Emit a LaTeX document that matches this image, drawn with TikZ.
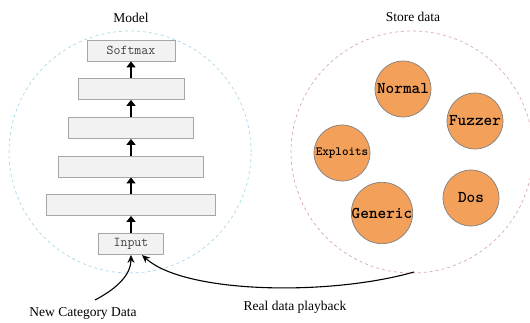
\documentclass[tikz,border=0pt]{standalone}
\usepackage{fontspec}
\setmainfont{Liberation Serif}
\usetikzlibrary{arrows.meta}

\definecolor{layerfill}{HTML}{F2F2F2}
\definecolor{layerline}{HTML}{A6A6A6}
\definecolor{layertext}{HTML}{404040}
\definecolor{modelring}{HTML}{A8D8E8}
\definecolor{storering}{HTML}{D8A8B0}
\definecolor{classfill}{HTML}{F3A05A}
\definecolor{classline}{HTML}{808080}

\begin{document}
\begin{tikzpicture}[x=1pt, y=1pt,
    layer/.style={draw=layerline, fill=layerfill, line width=0.8pt, minimum height=21pt, inner sep=0pt, text=layertext, font=\ttfamily\fontsize{13.5}{13.5}\selectfont},
    cls/.style={circle, draw=classline, fill=classfill, line width=0.7pt, minimum size=56pt, inner sep=0pt, font=\ttfamily\bfseries\fontsize{16.5}{16.5}\selectfont},
    up/.style={-{Triangle[width=9pt, length=6pt]}, line width=1.4pt},
    feed/.style={-{Stealth[width=7pt, length=8pt]}, line width=1.1pt},
    title/.style={font=\fontsize{13.5}{13.5}\selectfont}]
    \useasboundingbox (0,0) rectangle (530,322);

    % 两个虚线圆
    \draw[modelring, dashed, line width=0.7pt] (130,170) circle (121);
    \draw[storering, dashed, line width=0.7pt] (412,170) circle (121);
    \node[title] (modeltitle) at (131,304) {Model};
    \node[title] (storetitle) at (413,305) {Store data};

    % 网络各层
    \node[layer, minimum width=65pt] (input) at (131,78) {Input};
    \node[layer, minimum width=169pt] (h1) at (131,117) {};
    \node[layer, minimum width=145pt] (h2) at (131,155.5) {};
    \node[layer, minimum width=125pt] (h3) at (131,194) {};
    \node[layer, minimum width=106pt] (h4) at (131,233) {};
    \node[layer, minimum width=88pt] (softmax) at (131,271.5) {Softmax};

    % 层间箭头
    \draw[up] (input) -- (h1);
    \draw[up] (h1) -- (h2);
    \draw[up] (h2) -- (h3);
    \draw[up] (h3) -- (h4);
    \draw[up] (h4) -- (softmax);

    % 存储的类别
    \node[cls] (normal) at (403,233) {Normal};
    \node[cls] (fuzzer) at (475,201) {Fuzzer};
    \node[cls, font=\ttfamily\bfseries\fontsize{12.5}{12.5}\selectfont] (exploits) at (342,169) {Exploits};
    \node[cls] (generic) at (382,109) {Generic};
    \node[cls] (dos) at (471,124) {Dos};

    % 输入数据流
    \coordinate (newsrc) at (95,22);
    \coordinate (replaysrc) at (414,50);
    \coordinate (replaydst) at (142,67);
    \node[title] (newlabel) at (83,9) {New Category Data};
    \node[title] (replaylabel) at (295,15) {Real data playback};
    \draw[feed] (newsrc) .. controls (118,34) and (131,48) .. (input.south);
    \draw[feed] (replaysrc) .. controls (330,26) and (185,28) .. (replaydst);

\end{tikzpicture}
\end{document}
